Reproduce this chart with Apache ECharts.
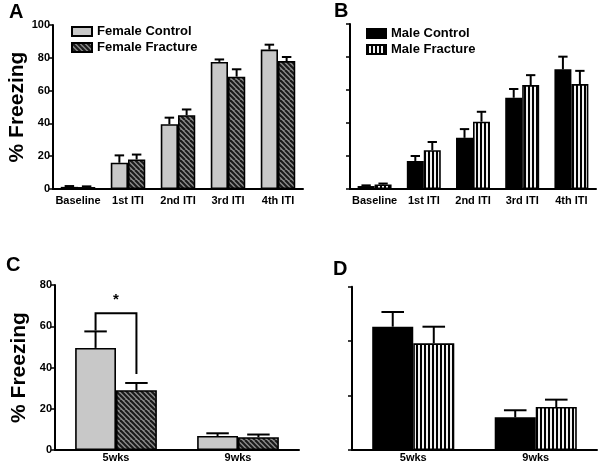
<!DOCTYPE html>
<html>
<head>
<meta charset="utf-8">
<script src="https://cdn.jsdelivr.net/npm/echarts@6/dist/echarts.min.js"></script>
<style>html,body{margin:0;padding:0;background:#fff}#c{width:600px;height:470px}</style>
</head>
<body>
<div id="c"></div>
<script>
// ---- data ----
const categoriesITI = ['Baseline', '1st ITI', '2nd ITI', '3rd ITI', '4th ITI'];
const femaleControl = [1.3, 16, 39.5, 77.5, 85];
const femaleControlErr = [0.5, 4.5, 4, 1.5, 3];
const femaleFracture = [1.2, 18, 45, 68.5, 78];
const femaleFractureErr = [0.4, 3, 3.5, 4.5, 2.5];
const maleControl = [1.8, 17, 31, 55.3, 72.5];
const maleControlErr = [0.4, 3, 5.3, 5.3, 7.7];
const maleFracture = [2.8, 23.5, 40.8, 63, 63.6];
const maleFractureErr = [0.5, 5, 6, 6, 8];
const categoriesWks = ['5wks', '9wks'];
const femaleControlWks = [49.5, 6.8];
const femaleControlWksErr = [8, 1.3];
const femaleFractureWks = [29, 6.2];
const femaleFractureWksErr = [3.5, 1.3];
const maleControlWks = [45.3, 12];
const maleControlWksErr = [5.4, 2.6];
const maleFractureWks = [39.2, 15.8];
const maleFractureWksErr = [6.1, 2.7];
const sigBracket = [[0, 66.3, 58, 36.8]]; // category, top, left leg end, right leg end
const sigLabel = '*';

// ---- patterns ----
function diagPattern() {
  const c = document.createElement('canvas');
  c.width = 10; c.height = 10;
  const g = c.getContext('2d');
  g.fillStyle = '#8c8c8c'; g.fillRect(0, 0, 10, 10);
  g.strokeStyle = '#1a1a1a'; g.lineWidth = 2.2;
  for (let k = -20; k <= 20; k += 5) {
    g.beginPath(); g.moveTo(k, 0); g.lineTo(k + 10, 10); g.stroke();
  }
  return c;
}
function vertPattern() {
  const c = document.createElement('canvas');
  c.width = 4; c.height = 4;
  const g = c.getContext('2d');
  g.fillStyle = '#f2f2f2'; g.fillRect(0, 0, 4, 4);
  g.fillStyle = '#000'; g.fillRect(0, 0, 2, 4);
  return c;
}
const hatch = { image: diagPattern(), repeat: 'repeat' };
const stripes = { image: vertPattern(), repeat: 'repeat' };

const FONT = "'Liberation Sans', Arial, sans-serif";

const gridDefs = [
  { left: 53, top: 25, width: 250, height: 164 },
  { left: 350, top: 24, width: 246, height: 165 },
  { left: 55, top: 285, width: 244, height: 165 },
  { left: 352, top: 286.7, width: 245, height: 163.3 }
];
const gaps = [0.31, 0.31, 0.33, 0.33];

function xAxisFor(i, cats, margin) {
  return {
    type: 'category', gridIndex: i, data: cats,
    axisLine: { lineStyle: { color: '#000', width: 2 } },
    axisTick: { alignWithLabel: true, length: 4, lineStyle: { color: '#000', width: 1.5 } },
    axisLabel: { interval: 0, hideOverlap: false, color: '#000', fontFamily: FONT, fontWeight: 'bold', fontSize: 11, margin: margin }
  };
}
function yAxisFor(i, max, interval, showLabels, name) {
  return {
    type: 'value', gridIndex: i, min: 0, max: max, interval: interval,
    name: name || '', nameLocation: 'middle', nameGap: 25,
    nameTextStyle: { color: '#000', fontFamily: FONT, fontWeight: 'bold', fontSize: 21 },
    splitLine: { show: false },
    axisLine: { show: true, lineStyle: { color: '#000', width: 2 } },
    axisTick: { show: true, length: 4, lineStyle: { color: '#000', width: 1.5 } },
    axisLabel: { show: showLabels, color: '#000', fontFamily: FONT, fontWeight: 'bold', fontSize: 11, margin: 3 }
  };
}

function barSeries(name, data, gi, color, gap) {
  return {
    type: 'bar', name: name, xAxisIndex: gi, yAxisIndex: gi, data: data,
    barGap: '0%', barCategoryGap: (gap * 100) + '%',
    itemStyle: { color: color, borderColor: '#000', borderWidth: 1.6 },
    emphasis: { disabled: true }, z: 2
  };
}
function errSeries(vals, errs, gi, side, gap) {
  return {
    type: 'custom', xAxisIndex: gi, yAxisIndex: gi, z: 3, silent: true,
    data: vals.map((v, i) => [i, v, errs[i]]),
    renderItem: function (params, api) {
      const ci = api.value(0), v = api.value(1), e = api.value(2);
      const band = api.size([1, 0])[0];
      const bw = band * (1 - gap) / 2;
      const base = api.coord([ci, v]);
      const top = api.coord([ci, v + e]);
      const x = base[0] + side * bw / 2;
      const cap = bw * 0.55;
      return {
        type: 'group', children: [
          { type: 'line', shape: { x1: x, y1: base[1], x2: x, y2: top[1] }, style: { stroke: '#000', lineWidth: 2 } },
          { type: 'line', shape: { x1: x - cap / 2, y1: top[1], x2: x + cap / 2, y2: top[1] }, style: { stroke: '#000', lineWidth: 2 } }
        ]
      };
    }
  };
}

const chart = echarts.init(document.getElementById('c'), null, { renderer: 'canvas' });
const legendText = { color: '#000', fontFamily: FONT, fontWeight: 'bold', fontSize: 13 };
chart.setOption({
  animation: false,
  backgroundColor: '#fff',
  grid: gridDefs.map(g => Object.assign({ containLabel: false }, g)),
  xAxis: [xAxisFor(0, categoriesITI, 6), xAxisFor(1, categoriesITI, 6), xAxisFor(2, categoriesWks, 2), xAxisFor(3, categoriesWks, 2)],
  yAxis: [yAxisFor(0, 100, 20, true, '% Freezing'), yAxisFor(1, 100, 20, false), yAxisFor(2, 80, 20, true, '% Freezing'), yAxisFor(3, 60, 20, false)],
  legend: [
    { data: ['Female Control', 'Female Fracture'], icon: 'rect', orient: 'vertical', left: 66, top: 20, itemWidth: 20, itemHeight: 9, itemGap: 3, textStyle: legendText, selectedMode: false },
    { data: ['Male Control', 'Male Fracture'], icon: 'rect', orient: 'vertical', left: 361, top: 22, itemWidth: 19, itemHeight: 9, itemGap: 3, textStyle: legendText, selectedMode: false }
  ],
  graphic: [
    { type: 'text', left: 9, top: 2, style: { text: 'A', font: 'bold 20px ' + FONT, fill: '#000' } },
    { type: 'text', left: 334, top: 1, style: { text: 'B', font: 'bold 20px ' + FONT, fill: '#000' } },
    { type: 'text', left: 6, top: 255, style: { text: 'C', font: 'bold 20px ' + FONT, fill: '#000' } },
    { type: 'text', left: 333, top: 259, style: { text: 'D', font: 'bold 20px ' + FONT, fill: '#000' } }
  ],
  series: [
    barSeries('Female Control', femaleControl, 0, '#c8c8c8', gaps[0]),
    barSeries('Female Fracture', femaleFracture, 0, hatch, gaps[0]),
    errSeries(femaleControl, femaleControlErr, 0, -1, gaps[0]),
    errSeries(femaleFracture, femaleFractureErr, 0, 1, gaps[0]),
    barSeries('Male Control', maleControl, 1, '#000', gaps[1]),
    barSeries('Male Fracture', maleFracture, 1, stripes, gaps[1]),
    errSeries(maleControl, maleControlErr, 1, -1, gaps[1]),
    errSeries(maleFracture, maleFractureErr, 1, 1, gaps[1]),
    barSeries('Female Control', femaleControlWks, 2, '#c8c8c8', gaps[2]),
    barSeries('Female Fracture', femaleFractureWks, 2, hatch, gaps[2]),
    errSeries(femaleControlWks, femaleControlWksErr, 2, -1, gaps[2]),
    errSeries(femaleFractureWks, femaleFractureWksErr, 2, 1, gaps[2]),
    barSeries('Male Control', maleControlWks, 3, '#000', gaps[3]),
    barSeries('Male Fracture', maleFractureWks, 3, stripes, gaps[3]),
    errSeries(maleControlWks, maleControlWksErr, 3, -1, gaps[3]),
    errSeries(maleFractureWks, maleFractureWksErr, 3, 1, gaps[3]),
    {
      type: 'custom', xAxisIndex: 2, yAxisIndex: 2, z: 4, silent: true, data: sigBracket,
      renderItem: function (params, api) {
        const ci = api.value(0);
        const band = api.size([1, 0])[0];
        const bw = band * (1 - gaps[2]) / 2;
        const t = api.coord([ci, api.value(1)]);
        const l = api.coord([ci, api.value(2)]);
        const r = api.coord([ci, api.value(3)]);
        const xl = t[0] - bw / 2, xr = t[0] + bw / 2;
        return {
          type: 'group', children: [
            { type: 'polyline', shape: { points: [[xl, l[1]], [xl, t[1]], [xr, t[1]], [xr, r[1]]] }, style: { stroke: '#000', lineWidth: 2, fill: null } },
            { type: 'text', style: { text: sigLabel, x: t[0], y: t[1] - 6, align: 'center', verticalAlign: 'bottom', font: 'bold 15px ' + FONT, fill: '#000' } }
          ]
        };
      }
    }
  ]
});
</script>
</body>
</html>
